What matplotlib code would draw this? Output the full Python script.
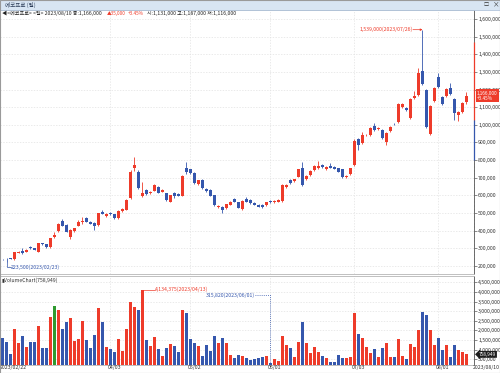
import matplotlib
matplotlib.use("Agg")
import matplotlib.pyplot as plt
import matplotlib.transforms as mtrans
from matplotlib import font_manager as fm
from matplotlib.patches import Rectangle
from matplotlib.ticker import FuncFormatter, MultipleLocator
import numpy as np

# 좁은 글꼴이 있으면 숫자에 사용
narrow_path = fm.findfont(fm.FontProperties(family='Liberation Sans Narrow'),
                          fallback_to_default=True)
if 'Narrow' in narrow_path:
    plt.rcParams['font.family'] = ['Liberation Sans Narrow', 'Noto Sans CJK KR', 'DejaVu Sans']
    FS = 4.7
else:
    plt.rcParams['font.family'] = ['Noto Sans CJK KR', 'DejaVu Sans']
    FS = 3.7

# 에코프로 일봉 2023/02/22 ~ 2023/08/10 (가격: 천원)
opens = [240, 242, 244, 240, 276, 285, 281, 310, 301, 282,
         329, 324, 305, 363, 398, 457, 430, 362, 396, 428,
         447, 474, 451, 446, 432, 508, 481, 503, 494, 471,
         509, 520, 585, 757, 734, 598, 630, 612, 627, 647,
         622, 611, 565, 612, 608, 598, 755, 750, 729, 667,
         690, 636, 630, 601, 534, 536, 528, 547, 580, 561,
         524, 579, 574, 556, 547, 545, 546, 570, 563, 564,
         566, 647, 690, 680, 707, 754, 692, 713, 745, 756,
         772, 749, 768, 763, 753, 748, 703, 722, 773, 920,
         898, 940, 943, 995, 978, 971, 904, 966, 1006, 1017,
         1102, 1095, 1040, 1153, 1170, 1305, 1200, 950, 1135, 1271,
         1158, 1164, 1209, 1146, 1057, 1074, 1131]
highs = [242, 244, 247, 281, 285, 300, 294, 313, 304, 332,
         333, 327, 360, 395, 445, 465, 440, 408, 418, 458,
         478, 478, 455, 449, 502, 520, 498, 506, 497, 516,
         527, 580, 745, 820, 745, 675, 636, 625, 664, 651,
         636, 616, 605, 620, 612, 715, 790, 752, 734, 690,
         694, 640, 634, 605, 544, 540, 553, 567, 585, 565,
         572, 593, 578, 560, 551, 549, 564, 574, 572, 578,
         663, 664, 695, 695, 752, 791, 713, 742, 772, 795,
         776, 767, 785, 767, 757, 752, 716, 758, 918, 928,
         960, 950, 985, 1010, 990, 975, 958, 992, 1010, 1125,
         1122, 1100, 1150, 1190, 1322, 1539, 1205, 1112, 1214, 1292,
         1163, 1208, 1235, 1150, 1078, 1130, 1187]
lows = [232, 223.5, 238, 236, 272, 270, 278, 299, 288, 279,
        320, 302, 302, 360, 395, 424, 390, 352, 392, 424,
        440, 448, 436, 405, 428, 493, 478, 488, 467, 468,
        505, 515, 580, 740, 635, 590, 604, 607, 623, 612,
        618, 570, 560, 588, 594, 594, 722, 720, 665, 660,
        636, 622, 594, 542, 530, 503, 524, 543, 561, 527,
        520, 561, 552, 543, 533, 527, 542, 557, 559, 560,
        562, 643, 666, 676, 703, 655, 688, 708, 740, 752,
        758, 745, 754, 748, 731, 698, 699, 718, 768, 858,
        893, 935, 938, 966, 973, 920, 886, 962, 998, 1012,
        1097, 1080, 1035, 1148, 1165, 1225, 980, 940, 1130, 1210,
        1114, 1160, 1170, 1030, 1020, 1068, 1116]
closes = [237, 238, 241, 278, 281, 273, 291, 302, 292, 328,
          323, 305, 356, 376, 438, 428, 395, 402, 413, 450,
          455, 452, 440, 424, 498, 497, 494, 492, 471, 512,
          522, 574, 733, 772, 641, 611, 609, 620, 659, 616,
          630, 575, 600, 598, 598, 710, 730, 727, 670, 686,
          641, 626, 598, 547, 540, 518, 549, 563, 565, 531,
          567, 565, 556, 547, 537, 534, 560, 561, 568, 574,
          659, 660, 670, 691, 748, 660, 709, 738, 768, 766,
          762, 763, 758, 752, 735, 702, 712, 754, 908, 887,
          941, 944, 981, 972, 984, 926, 953, 988, 1002, 1118,
          1117, 1085, 1146, 1163, 1294, 1232, 988, 1107, 1209, 1215,
          1119, 1203, 1176, 1068, 1073, 1124, 1166]
# 거래량 (백만주)
volumes = [1.59, 1.42, 0.76, 2.08, 1.36, 1.71, 1.13, 1.42, 1.42, 2.23,
           1.07, 1.07, 2.72, 3.28, 3.07, 2.06, 2.46, 2.64, 1.45, 1.54,
           2.49, 1.50, 1.07, 1.75, 3.19, 2.43, 1.16, 1.04, 0.90, 1.54,
           0.93, 2.06, 3.50, 3.21, 3.07, 4.134375, 1.50, 1.19, 1.68, 1.04,
           0.67, 1.10, 1.28, 1.19, 0.90, 3.07, 2.90, 1.56, 1.33, 1.19,
           0.67, 1.24, 0.93, 1.73, 1.33, 1.62, 1.33, 0.72, 0.55, 0.72,
           0.67, 0.55, 0.45, 0.50, 0.58, 0.62, 0.68, 0.31582, 0.52, 0.40,
           1.71, 1.24, 1.10, 0.64, 1.39, 2.43, 1.33, 0.81, 1.16, 0.86,
           0.67, 0.58, 0.36, 0.34, 0.72, 0.58, 0.58, 0.60, 2.93, 1.82,
           1.59, 1.12, 0.81, 1.04, 0.64, 1.07, 1.36, 0.60, 0.60, 1.56,
           0.67, 0.50, 1.30, 1.16, 2.03, 2.98, 2.81, 2.03, 1.24, 1.59,
           0.98, 1.24, 0.64, 1.22, 0.98, 0.90, 0.758949]
highlight_bar = 13

date_ticks = [27, 47, 67, 88, 109]
date_labels = ['04/03', '05/02', '06/01', '07/03', '08/01']
first_date = '2023/02/22'
last_date = '2023/08/10'

o = np.array(opens) * 1000
h = np.array(highs) * 1000
l = np.array(lows) * 1000
c = np.array(closes) * 1000
v = np.array(volumes) * 1e6
x = np.arange(len(o))

RED = '#ee3b2a'
BLUE = '#3557ad'
GREEN = '#2f9a2f'
GRID = '#e2e2e2'
TXT = '#333333'

fig = plt.figure(figsize=(5, 3.73), dpi=100)
W, H = 500, 373
ax = fig.add_axes([0, 1 - 274 / H, 474 / W, 264 / H])
ax2 = fig.add_axes([0, 1 - 364.5 / H, 474 / W, 88.5 / H], sharex=ax)

up = c >= o
cols = np.where(up, RED, BLUE)

# 캔들
ax.vlines(x, l, h, colors=cols, lw=0.6, zorder=3)
body = np.maximum(np.abs(c - o), 2500)
ax.bar(x, body, bottom=np.minimum(o, c), width=0.74, color=cols, zorder=4)

# 거래량
vcols = list(cols)
vcols[highlight_bar] = GREEN
ax2.bar(x, v, width=0.76, color=vcols, zorder=3)

ax.set_xlim(-0.625, 117.875)
ax.set_ylim(154700, 1650500)
ax2.set_ylim(229000, 4838000)

for a in (ax, ax2):
    a.yaxis.tick_right()
    a.tick_params(axis='y', which='major', labelsize=FS, colors=TXT, length=2,
                  width=0.4, pad=1.0)
    a.tick_params(axis='y', which='minor', length=1, width=0.3, colors='#666')
    a.tick_params(axis='x', which='both', bottom=False, labelbottom=False)
    for s in a.spines.values():
        s.set_color('#b5b5b5')
        s.set_linewidth(0.6)
    a.spines['right'].set_color('#555555')
    for t in date_ticks:
        a.axvline(t, color=GRID, lw=0.5, ls=(0, (2, 2)), zorder=0)

fmt = FuncFormatter(lambda val, pos: f'{val:,.0f}')
ax.set_yticks(np.arange(200000, 1600001, 100000))
ax.yaxis.set_major_formatter(fmt)
ax.yaxis.set_minor_locator(MultipleLocator(20000))
ax.grid(axis='y', color=GRID, lw=0.5, ls=(0, (2, 2)), zorder=0)

ax2.set_yticks(np.arange(500000, 4500001, 500000))
ax2.yaxis.set_major_formatter(fmt)
ax2.yaxis.set_minor_locator(MultipleLocator(100000))
ax2.grid(axis='y', color=GRID, lw=0.5, ls=(0, (2, 2)), zorder=0)

# 상/하한 범위 표시
ax.plot([117.875] * 2, [1030000, 1470300], color=RED, lw=0.9, clip_on=False,
        zorder=6, solid_capstyle='butt')
ax.plot([117.875] * 2, [800000, 1030000], color=BLUE, lw=0.9, clip_on=False,
        zorder=6, solid_capstyle='butt')

# 최고/최저 표시
hi_i = int(np.argmax(h))
lo_i = int(np.argmin(l))
ax.annotate('', xy=(hi_i, h[hi_i]), xytext=(hi_i - 2.4, h[hi_i]),
            arrowprops=dict(arrowstyle='-|>', color=RED, lw=0.5,
                            mutation_scale=3, shrinkA=0, shrinkB=0), zorder=6)
ax.text(hi_i - 2.5, h[hi_i], f'{h[hi_i]:,.0f}(2023/07/26)', color=RED,
        fontsize=FS, ha='right', va='center', zorder=6)
ax.plot([lo_i, lo_i, lo_i + 1], [l[lo_i], 192000, 192000], color=BLUE, lw=0.5, zorder=6)
ax.text(lo_i + 1.1, 192000, f'{l[lo_i]:,.0f}(2023/02/23)', color=BLUE,
        fontsize=FS, ha='left', va='center', zorder=6)

vmax_i = int(np.argmax(v))
vmin_i = int(np.argmin(v))
ax2.plot([vmax_i, vmax_i + 3.1], [v[vmax_i]] * 2, color=RED, lw=0.5, zorder=6)
ax2.text(vmax_i + 3.2, v[vmax_i], f'{v[vmax_i]:,.0f}(2023/04/13)', color=RED,
         fontsize=FS, ha='left', va='center', zorder=6)
ax2.plot([vmin_i - 3.8, vmin_i, vmin_i], [3850000, 3850000, v[vmin_i]], color=BLUE,
         lw=0.6, ls=(0, (1, 1.5)), zorder=6)
ax2.text(vmin_i - 3.9, 3850000, f'{v[vmin_i]:,.0f}(2023/06/01)', color=BLUE,
         fontsize=FS, ha='right', va='center', zorder=6)

# 현재가 / 거래량 박스
bl = mtrans.blended_transform_factory(ax.transAxes, ax.transData)
ax.text(1.006, c[-1], f'{c[-1]:,.0f}\n+3.45%', transform=bl, color='white',
        fontsize=FS - 0.3, ha='left', va='center', linespacing=1.0, zorder=10,
        clip_on=False, bbox=dict(boxstyle='square,pad=0.25', fc=RED, ec='none'))
bl2 = mtrans.blended_transform_factory(ax2.transAxes, ax2.transData)
ax2.text(1.01, v[-1], f'{v[-1]:,.0f}', transform=bl2, color='white',
         fontsize=FS - 0.3, ha='left', va='center', zorder=10, clip_on=False,
         bbox=dict(boxstyle='larrow,pad=0.2', fc='#1e1e1e', ec='none'))

ax2.text(0.004, 0.955, '▮VolumeChart(758,949)', transform=ax2.transAxes,
         fontsize=FS, color=TXT, ha='left', va='center')

# 날짜 라벨
bx = mtrans.blended_transform_factory(ax2.transData, ax2.transAxes)
ax2.text(-0.6, -0.035, first_date, transform=bx, fontsize=FS, color=TXT,
         ha='left', va='center')
for t, lab in zip(date_ticks, date_labels):
    ax2.text(t + 1.05, -0.035, lab, transform=bx, fontsize=FS, color=TXT,
             ha='center', va='center')
ax2.text(117.6, -0.035, last_date, transform=bx, fontsize=FS, color=TXT,
         ha='left', va='center', clip_on=False)

# 상단 타이틀 바
fig.patches.append(Rectangle((0, 1 - 9.5 / H), 1, 9.5 / H, transform=fig.transFigure,
                             fc='#d8e5f3', ec='#a8bdd6', lw=0.5, zorder=0))
fig.text(5 / W, 1 - 4.8 / H, '에코프로 (일)', fontsize=FS + 0.3, color='#2b3b57',
         va='center', ha='left')
fig.text(484 / W, 1 - 4.8 / H, '□', fontsize=FS, color='#333', va='center')
fig.text(493 / W, 1 - 4.8 / H, '×', fontsize=FS + 1, color='#333', va='center')

# 정보 줄: 구간별 시작 x / 끝 x (픽셀)
fig.canvas.draw()
r = fig.canvas.get_renderer()
segments = [('◀<에코프로> <일> 2023/08/10 종:1,166,000', '#222222', 2, 103),
            ('▲35,000', RED, 107, 126),
            ('+3.45%', RED, 128, 144),
            ('시:1,131,000 고:1,187,000 저:1,116,000', '#222222', 147, 242)]
for s, col, x0, x1 in segments:
    t = fig.text(x0 / W, 1 - 13.8 / H, s, fontsize=FS, color=col, ha='left', va='center')
    w = t.get_window_extent(r).width
    if w > (x1 - x0):
        t.set_fontsize(FS * (x1 - x0) / w)

fig.patches.append(Rectangle((0, 0), 1, 1, transform=fig.transFigure, fill=False,
                             ec='#9a9a9a', lw=0.8))

fig.savefig('out.png', dpi=100, facecolor='white')
